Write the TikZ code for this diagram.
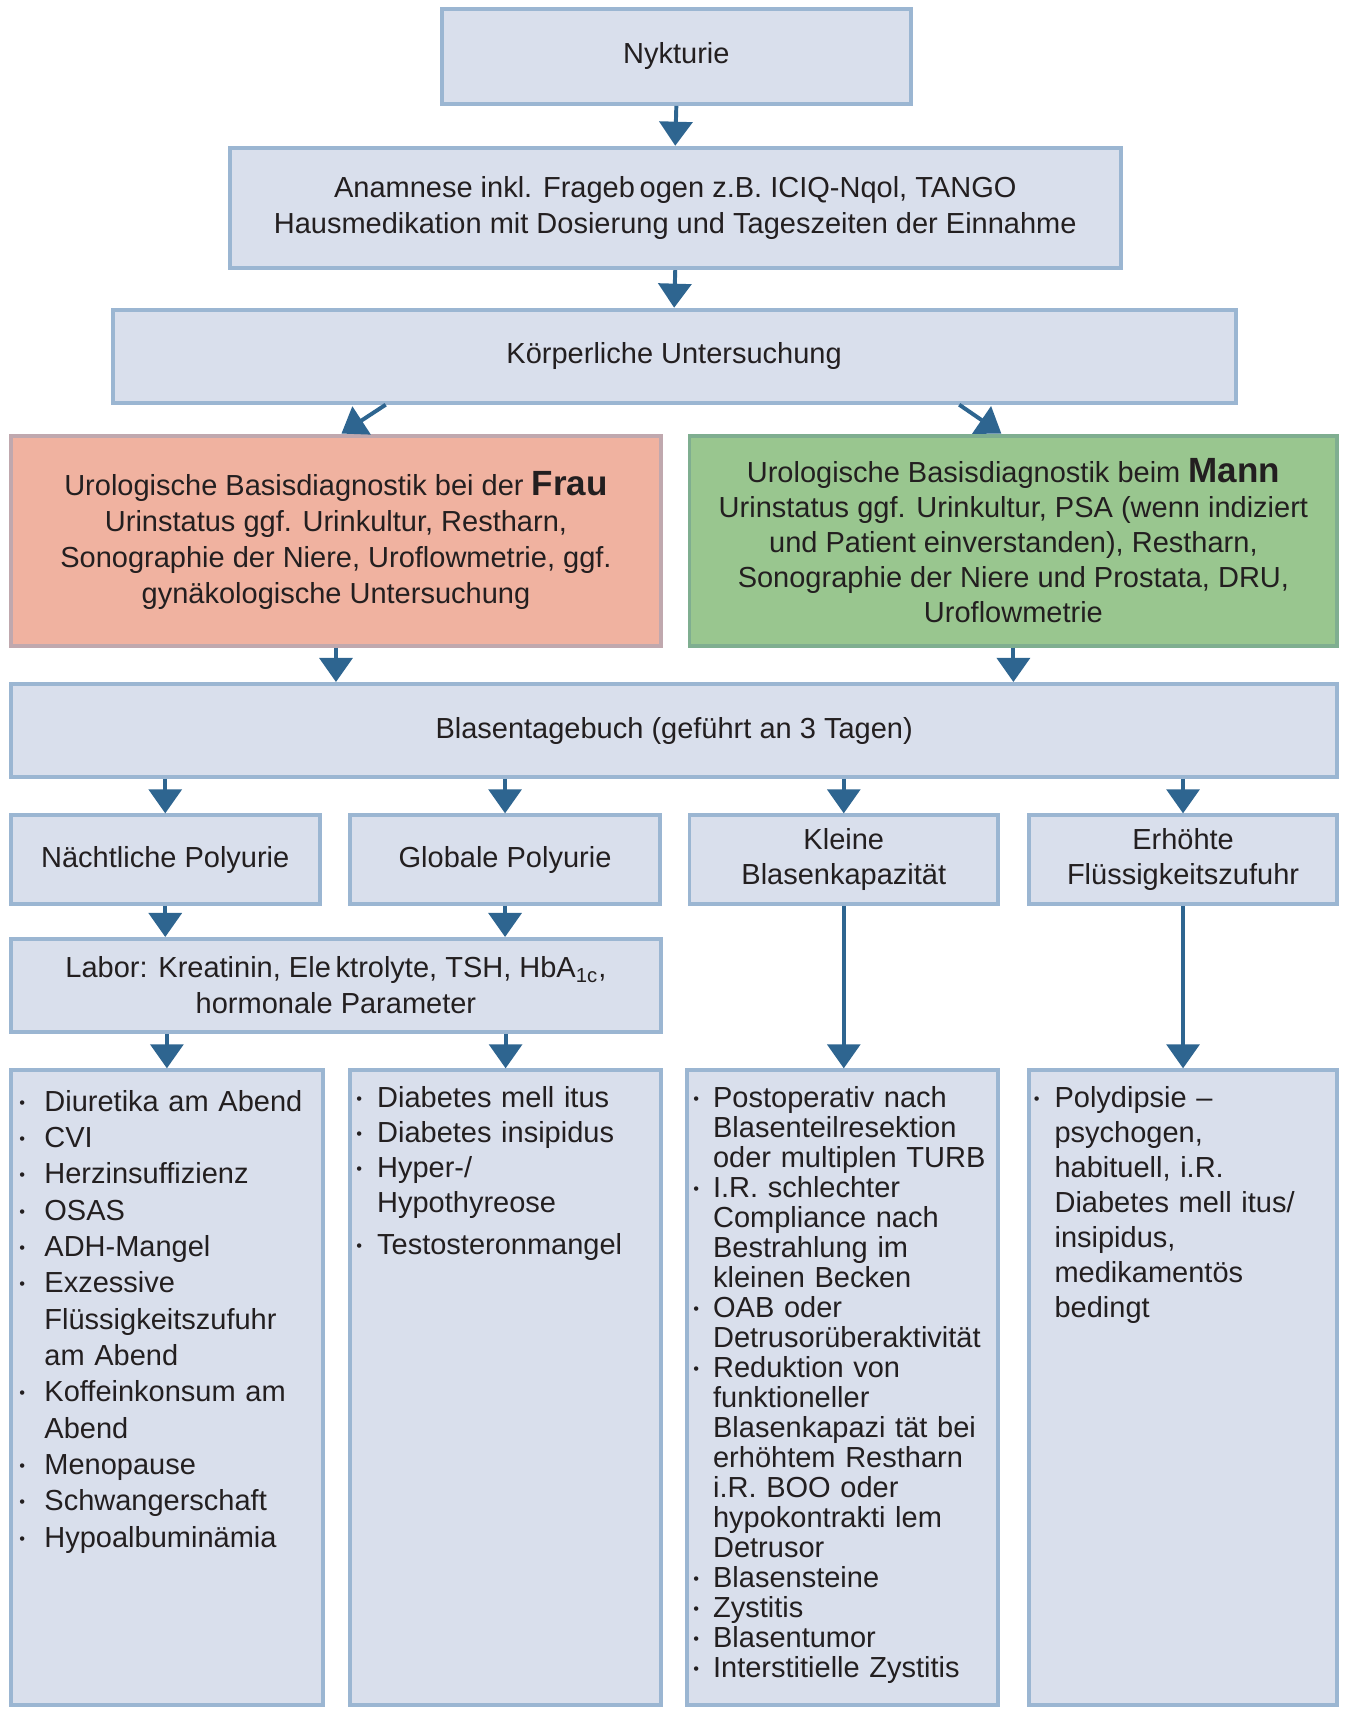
\documentclass[tikz,border=0pt]{standalone}
\usepackage{fontspec}
\setmainfont{Liberation Sans}
\usetikzlibrary{arrows.meta,calc}

\definecolor{kastenfill}{HTML}{D9DFEC}
\definecolor{kastenrand}{HTML}{9BB6D2}
\definecolor{pfeilblau}{HTML}{2E6590}
\definecolor{fraufill}{HTML}{F0B2A0}
\definecolor{fraurand}{HTML}{C0A8AE}
\definecolor{mannfill}{HTML}{99C68F}
\definecolor{mannrand}{HTML}{7FAE90}
\definecolor{schrift}{HTML}{231F20}

\newlength\einzug
\newcommand\punkt[1]{\hangindent=\einzug\hangafter=1\noindent\makebox[\einzug][l]{\raisebox{1.3pt}{\fontsize{7.5}{7.5}\selectfont\textbullet}}#1\par}
\newcommand\gross[1]{{\fontsize{16}{16}\selectfont\bfseries #1}}

\tikzset{
	kasten/.style={draw=kastenrand, fill=kastenfill, line width=1.8pt, inner sep=0pt, align=center, text=schrift, font=\fontsize{13.25}{16.3}\selectfont},
	pfeil/.style={draw=pfeilblau, line width=1.8pt, -{Triangle[width=15pt,length=11pt]}},
	liste/.style={anchor=base west, inner sep=0pt, text width=138pt, align=left, text=schrift},
}

\begin{document}
\begin{tikzpicture}[x=0.5pt,y=-0.5pt]
		%%%%% START %%%%%
		\useasboundingbox (0,0) rectangle (1232,1568);
		
		\node[kasten, minimum width=214pt, minimum height=43.5pt] (nykturie) at (618,51.5) {Nykturie};
		\node[kasten, minimum width=407pt, minimum height=55pt] (anamnese) at (617,190) {Anamnese inkl. Frageb\,ogen z.B. ICIQ-Nqol, TANGO\\Hausmedikation mit Dosierung und Tageszeiten der Einnahme};
		\node[kasten, minimum width=513pt, minimum height=42.5pt] (koerper) at (616,325.5) {Körperliche Untersuchung};
		
		\node[kasten, draw=fraurand, fill=fraufill, minimum width=297pt, minimum height=96pt, font=\fontsize{13.25}{16.5}\selectfont] (frau) at (307,494) {Urologische Basisdiagnostik bei der \gross{Frau}\\Urinstatus ggf. Urinkultur, Restharn,\\Sonographie der Niere, Uroflowmetrie, ggf.\\gynäkologische Untersuchung};
		\node[kasten, draw=mannrand, fill=mannfill, minimum width=296pt, minimum height=96pt, font=\fontsize{13.25}{16}\selectfont] (mann) at (926,494) {Urologische Basisdiagnostik beim \gross{Mann}\\Urinstatus ggf. Urinkultur, PSA (wenn indiziert\\und Patient einverstanden), Restharn,\\Sonographie der Niere und Prostata, DRU,\\Uroflowmetrie};
		
		\node[kasten, minimum width=606pt, minimum height=42.5pt] (tagebuch) at (616,667.5) {Blasentagebuch (geführt an 3 Tagen)};
		
		\node[kasten, minimum width=141pt, minimum height=40.5pt] (naechtlich) at (151,785.5) {Nächtliche Polyurie};
		\node[kasten, minimum width=141.5pt, minimum height=40.5pt] (global) at (461.5,785.5) {Globale Polyurie};
		\node[kasten, minimum width=141pt, minimum height=40.5pt] (kapazitaet) at (771,785.5) {Kleine\\Blasenkapazität};
		\node[kasten, minimum width=141pt, minimum height=40.5pt] (zufuhr) at (1081,785.5) {Erhöhte\\Flüssigkeitszufuhr};
		
		\node[kasten, minimum width=297pt, minimum height=42.5pt, font=\fontsize{13.25}{16.5}\selectfont] (labor) at (307,900.5) {Labor: Kreatinin, Ele\,ktrolyte, TSH, HbA\textsubscript{1c},\\hormonale Parameter};
		
		\node[kasten, minimum width=142.5pt, minimum height=290pt] (liste1) at (152.5,1268) {};
		\node[kasten, minimum width=142pt, minimum height=290pt] (liste2) at (462,1268) {};
		\node[kasten, minimum width=142pt, minimum height=290pt] (liste3) at (770,1268) {};
		\node[kasten, minimum width=141pt, minimum height=290pt] (liste4) at (1081,1268) {};
		
		% Listen
		\node[liste, font=\fontsize{13.25}{16.6}\selectfont] (liste1text) at ([xshift=4.5pt,yshift=-19.5pt]liste1.north west) {\setlength\einzug{11.5pt}\parindent=0pt%
			\punkt{Diuretika am Abend}%
			\punkt{CVI}%
			\punkt{Herzinsuffizienz}%
			\punkt{OSAS}%
			\punkt{ADH-Mangel}%
			\punkt{Exzessive\newline Flüssigkeitszufuhr\newline am Abend}%
			\punkt{Koffeinkonsum am\newline Abend}%
			\punkt{Menopause}%
			\punkt{Schwangerschaft}%
			\punkt{Hypoalbuminämia}};
		\node[liste, font=\fontsize{13.25}{16}\selectfont] (liste2text) at ([xshift=3.5pt,yshift=-18pt]liste2.north west) {\setlength\einzug{9.5pt}\parindent=0pt%
			\punkt{Diabetes mell itus}%
			\punkt{Diabetes insipidus}%
			\punkt{Hyper-/\newline Hypothyreose}\vspace{3pt}%
			\punkt{Testosteronmangel}};
		\node[liste, font=\fontsize{13.25}{13.7}\selectfont] (liste3text) at ([xshift=3.5pt,yshift=-18pt]liste3.north west) {\setlength\einzug{9pt}\parindent=0pt%
			\punkt{Postoperativ nach\newline Blasenteilresektion\newline oder multiplen TURB}%
			\punkt{I.R. schlechter\newline Compliance nach\newline Bestrahlung im\newline kleinen Becken}%
			\punkt{OAB oder\newline Detrusorüberaktivität}%
			\punkt{Reduktion von\newline funktioneller\newline Blasenkapazi tät bei\newline erhöhtem Restharn\newline i.R. BOO oder\newline hypokontrakti lem\newline Detrusor}%
			\punkt{Blasensteine}%
			\punkt{Zystitis}%
			\punkt{Blasentumor}%
			\punkt{Interstitielle Zystitis}};
		\node[liste, font=\fontsize{13.25}{16}\selectfont] (liste4text) at ([xshift=3pt,yshift=-18pt]liste4.north west) {\setlength\einzug{9.5pt}\parindent=0pt%
			\punkt{Polydipsie --\newline psychogen,\newline habituell, i.R.\newline Diabetes mell itus/\newline insipidus,\newline medikamentös\newline bedingt}};
		
		% Pfeile
		\draw[pfeil] (nykturie.south) -- (anamnese.north);
		\draw[pfeil] (anamnese.south) -- (koerper.north);
		\draw[pfeil] ($(koerper.south west)!0.244!(koerper.south east)$) -- ([xshift=2.5pt]frau.north);
		\draw[pfeil] ($(koerper.south west)!0.753!(koerper.south east)$) -- ([xshift=-5.5pt]mann.north);
		\draw[pfeil] (frau.south) -- (frau.south |- tagebuch.north);
		\draw[pfeil] (mann.south) -- (mann.south |- tagebuch.north);
		\draw[pfeil] (naechtlich.north |- tagebuch.south) -- (naechtlich.north);
		\draw[pfeil] (global.north |- tagebuch.south) -- (global.north);
		\draw[pfeil] (kapazitaet.north |- tagebuch.south) -- (kapazitaet.north);
		\draw[pfeil] (zufuhr.north |- tagebuch.south) -- (zufuhr.north);
		\draw[pfeil] (naechtlich.south) -- (naechtlich.south |- labor.north);
		\draw[pfeil] (global.south) -- (global.south |- labor.north);
		\draw[pfeil] (liste1.north |- labor.south) -- (liste1.north);
		\draw[pfeil] (liste2.north |- labor.south) -- (liste2.north);
		\draw[pfeil] (kapazitaet.south) -- (kapazitaet.south |- liste3.north);
		\draw[pfeil] (zufuhr.south) -- (zufuhr.south |- liste4.north);
		%%%%% END %%%%%
\end{tikzpicture}
\end{document}
